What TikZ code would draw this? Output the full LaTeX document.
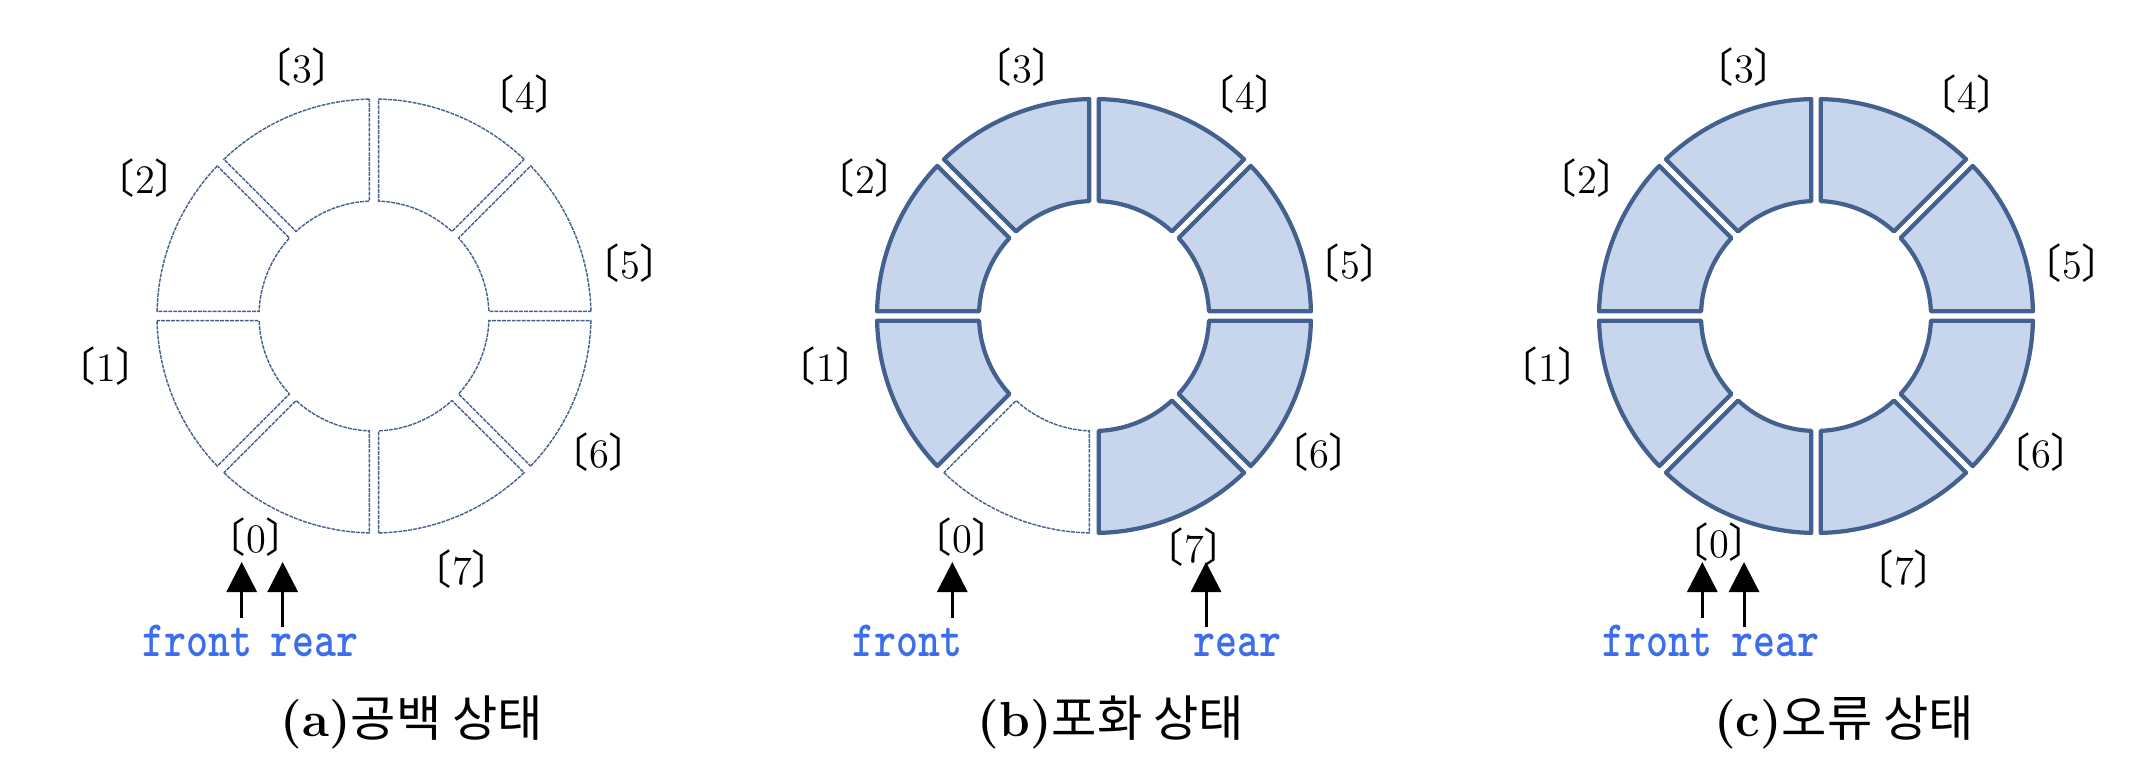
\documentclass[tikz,border=0pt]{standalone}
\usepackage{graphicx}
\usepackage{fontspec}
\newfontfamily\cjk{Noto Sans CJK KR}
\usetikzlibrary{arrows.meta}

\definecolor{cellline}{RGB}{67,96,142}
\definecolor{cellfill}{RGB}{199,214,236}
\definecolor{ptrblue}{RGB}{60,110,235}

\newcommand{\qlab}[1]{{\cjk 〔}#1{\cjk 〕}}
\newcommand{\ptrname}[1]{\scalebox{0.82}[1]{#1}}

\begin{document}
\begin{tikzpicture}[x=0.01cm, y=0.01cm,
    cellempty/.style = {draw=cellline, line width=0.4pt, dash pattern=on 1.1pt off 0.3pt},
    cellfull/.style = {draw=cellline, fill=cellfill, line width=1.2pt, line join=round},
    idx/.style = {inner sep=0pt, font=\fontsize{11.5}{13}\selectfont},
    ptr/.style = {line width=0.85pt, -{Triangle[length=0.3cm, width=0.3cm]}},
    ptrtxt/.style = {inner xsep=0pt, inner ysep=2pt, text=ptrblue, font=\ttfamily\bfseries\fontsize{14.5}{17}\selectfont\addfontfeature{FakeBold=1.2}},
    capt/.style = {inner sep=0pt, font=\bfseries\fontsize{14}{16}\selectfont}]

  \useasboundingbox (0,0) rectangle (2146,782);

  % rings, cell 0 at the bottom left, then clockwise
  \foreach \cx/\sa/\sb [count=\p] in {374/cellempty/cellempty, 1094/cellempty/cellfull, 1816/cellfull/cellfull} {
    \coordinate (c\p) at (\cx,466);
    \foreach \i in {0,...,7} {
      \pgfmathsetmacro\a{-135-45*\i}
      \edef\st{\ifnum\i=0 \sa\else\sb\fi}
      \draw[\st] ([shift={(c\p)}]\a+1.24:217) arc[start angle=\a+1.24, end angle=\a+43.76, radius=217]
        -- ([shift={(c\p)}]\a+42.66:115) arc[start angle=\a+42.66, end angle=\a+2.34, radius=115] -- cycle;
    }
  }

  % indices
  \foreach \p/\zx/\zy/\sx/\sy in {1/-118/-221/88/-253, 2/-132/-221/100/-231, 3/-97/-226/88/-253} {
    \foreach \k/\dx/\dy in {1/-268/-50, 2/-229/138, 3/-72/249, 4/151/222, 5/256/53, 6/225/-136}
      \node[idx] (l\p-\k) at ([shift={(c\p)}]\dx,\dy) {\qlab{\k}};
    \node[idx] (l\p-0) at ([shift={(c\p)}]\zx,\zy) {\qlab{0}};
    \node[idx] (l\p-7) at ([shift={(c\p)}]\sx,\sy) {\qlab{7}};
  }

  % front / rear
  \foreach \p/\fx/\rx in {1/241.7/282.7, 2/952.3/1206, 3/1702.3/1744} {
    \coordinate (fh\p) at (\fx,220);
    \coordinate (rh\p) at (\rx,220);
    \node[ptrtxt, anchor=base east] (front\p) at (\fx+11,125) {\ptrname{front}};
    \node[ptrtxt, anchor=base west] (rear\p) at (\rx-13,125) {\ptrname{rear}};
    \draw[ptr] (front\p.north -| fh\p) -- (fh\p);
    \draw[ptr] (rear\p.north -| rh\p) -- (rh\p);
  }

  \node[capt, anchor=base] (cap1) at (412,45) {(a){\mdseries\cjk 공백 상태}};
  \node[capt, anchor=base] (cap2) at (1111,45) {(b){\mdseries\cjk 포화 상태}};
  \node[capt, anchor=base] (cap3) at (1844,45) {(c){\mdseries\cjk 오류 상태}};
\end{tikzpicture}
\end{document}
